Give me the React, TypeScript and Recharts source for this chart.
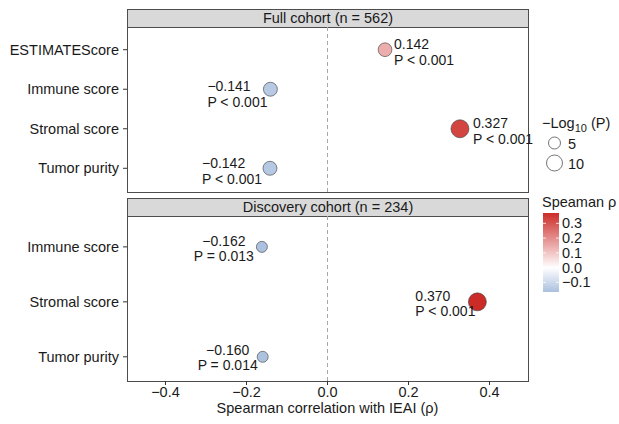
import React from 'react';
import {
  ScatterChart,
  Scatter,
  XAxis,
  YAxis,
  ZAxis,
  ReferenceLine
} from 'recharts';

// full cohort (n = 562)
const fullCategories = ['ESTIMATEScore', 'Immune score', 'Stromal score', 'Tumor purity'];
const fullRho = [0.142, -0.141, 0.327, -0.142];
const fullLogP = [7.0, 7.3, 13.0, 7.3];
const fullP = ['P < 0.001', 'P < 0.001', 'P < 0.001', 'P < 0.001'];

// discovery cohort (n = 234)
const discoveryCategories = ['Immune score', 'Stromal score', 'Tumor purity'];
const discoveryRho = [-0.162, 0.37, -0.16];
const discoveryLogP = [4.0, 13.0, 4.0];
const discoveryP = ['P = 0.013', 'P < 0.001', 'P = 0.014'];

const xTicks = [-0.4, -0.2, 0, 0.2, 0.4];
const sizeLegendValues = [5, 10];
const colorLegendTicks = [0.3, 0.2, 0.1, 0.0, -0.1];

// where the repelled labels ended up, relative to each point
const fullLabelPos = [
  { anchor: 'start', dx: 9, dy1: -6, dy2: 10 },
  { anchor: 'start', dx: -63, dy1: -3, dy2: 13 },
  { anchor: 'start', dx: 13, dy1: -6, dy2: 10 },
  { anchor: 'start', dx: -68, dy1: -5, dy2: 11 }
];
const discoveryLabelPos = [
  { anchor: 'middle', dx: -38, dy1: -6, dy2: 9 },
  { anchor: 'start', dx: -62, dy1: -6, dy2: 9 },
  { anchor: 'middle', dx: -35, dy1: -7, dy2: 8 }
];

const FONT = '"Liberation Sans", Arial, Helvetica, sans-serif';
const TEXT = '#1a1a1a';
const BORDER = '#4d4d4d';
const X_DOMAIN: [number, number] = [-0.495, 0.495];

// size scale: -log10(P) -> circle area (px^2)
const Z_DOMAIN: [number, number] = [0, 15];
const Z_RANGE: [number, number] = [25, 289];

const HIGH = [204, 44, 40];
const LOW = [66, 113, 181];
const RHO_TOP = 0.37;
const RHO_BOTTOM = -0.165;

function rhoColor(v: number) {
  const t = Math.min(1, Math.abs(v) / RHO_TOP);
  const c = v >= 0 ? HIGH : LOW;
  const ch = c.map((k) => Math.round(255 + (k - 255) * t));
  return `rgb(${ch[0]},${ch[1]},${ch[2]})`;
}

const minus = (s: string) => s.replace('-', '\u2212');

function buildRows(rho: number[], logp: number[], p: string[]) {
  return rho.map((r, i) => ({ x: r, y: i, logp: logp[i], p: p[i], idx: i }));
}

const fullRows = buildRows(fullRho, fullLogP, fullP);
const discoveryRows = buildRows(discoveryRho, discoveryLogP, discoveryP);

function makeShape(labelPos: any[]) {
  return (props: any) => {
    const { cx, cy, payload } = props;
    const size = props.size ?? Math.PI * (props.width / 2) ** 2;
    const r = Math.sqrt(size / Math.PI);
    const pos = labelPos[payload.idx];
    const tx = cx + pos.dx;
    return (
      <g>
        <circle cx={cx} cy={cy} r={r} fill={rhoColor(payload.x)} stroke="#3a3a3a" strokeWidth={0.6} />
        <text x={tx} y={cy + pos.dy1} textAnchor={pos.anchor} dominantBaseline="central"
          fontFamily={FONT} fontSize={14} fill={TEXT}>
          {minus(payload.x.toFixed(3))}
        </text>
        <text x={tx} y={cy + pos.dy2} textAnchor={pos.anchor} dominantBaseline="central"
          fontFamily={FONT} fontSize={14} fill={TEXT}>
          {payload.p}
        </text>
      </g>
    );
  };
}

const tickStyle = { fontSize: 14.5, fontFamily: FONT, fill: TEXT };

function Panel({ top, height, label }: { top: number; height: number; label: string }) {
  return (
    <div style={{
      position: 'absolute', left: 127, top, width: 402, height,
      border: `1px solid ${BORDER}`, boxSizing: 'border-box'
    }}>
      <div style={{
        height: 17, background: '#d9d9d9', borderBottom: `1px solid ${BORDER}`,
        fontFamily: FONT, fontSize: 14.5, color: TEXT, textAlign: 'center', lineHeight: '17px'
      }}>
        {label}
      </div>
    </div>
  );
}

function Legends() {
  const r = (v: number) => {
    const area = Z_RANGE[0] + ((v - Z_DOMAIN[0]) / (Z_DOMAIN[1] - Z_DOMAIN[0])) * (Z_RANGE[1] - Z_RANGE[0]);
    return Math.sqrt(area / Math.PI);
  };
  const barTop = 213;
  const barH = 79;
  const yOf = (v: number) => barTop + ((RHO_TOP - v) / (RHO_TOP - RHO_BOTTOM)) * barH;
  const zeroOffset = (RHO_TOP / (RHO_TOP - RHO_BOTTOM)) * 100;
  return (
    <svg width={619} height={424} style={{ position: 'absolute', left: 0, top: 0, pointerEvents: 'none' }}>
      <defs>
        <linearGradient id="rhoGrad" x1="0" y1="0" x2="0" y2="1">
          <stop offset="0%" stopColor={rhoColor(RHO_TOP)} />
          <stop offset={`${zeroOffset}%`} stopColor="#ffffff" />
          <stop offset="100%" stopColor={rhoColor(RHO_BOTTOM)} />
        </linearGradient>
      </defs>
      <text x={542} y={123} dominantBaseline="central" fontFamily={FONT} fontSize={14.5} fill={TEXT}>
        {'\u2212Log'}
        <tspan fontSize={11} dy={5}>10</tspan>
        <tspan dy={-5}> (P)</tspan>
      </text>
      {sizeLegendValues.map((v, i) => (
        <g key={v}>
          <circle cx={554.5} cy={143 + i * 20} r={r(v)} fill="#fff" stroke="#3a3a3a" strokeWidth={0.7} />
          <text x={568} y={144 + i * 20} dominantBaseline="central" fontFamily={FONT} fontSize={14.5} fill={TEXT}>
            {v}
          </text>
        </g>
      ))}
      <text x={542} y={202} dominantBaseline="central" fontFamily={FONT} fontSize={14.5} fill={TEXT}>
        Speaman ρ
      </text>
      <rect x={543} y={barTop} width={16} height={barH} fill="url(#rhoGrad)" />
      {colorLegendTicks.map((v) => (
        <g key={v}>
          <line x1={543} x2={546} y1={yOf(v)} y2={yOf(v)} stroke="#fff" strokeWidth={0.8} />
          <line x1={556} x2={559} y1={yOf(v)} y2={yOf(v)} stroke="#fff" strokeWidth={0.8} />
          <text x={562} y={yOf(v)} dominantBaseline="central" fontFamily={FONT} fontSize={14.5} fill={TEXT}>
            {minus(v.toFixed(1))}
          </text>
        </g>
      ))}
    </svg>
  );
}

export default function App() {
  return (
    <div style={{ position: 'absolute', left: 0, top: 0, width: 619, height: 424, background: '#fff' }}>
      <Panel top={9} height={184} label="Full cohort (n = 562)" />
      <Panel top={198} height={184} label="Discovery cohort (n = 234)" />

      <div style={{ position: 'absolute', left: 0, top: 26 }}>
        <ScatterChart width={545} height={166} margin={{ top: 0, right: 17, bottom: 0, left: 0 }}>
          <XAxis type="number" dataKey="x" domain={X_DOMAIN} hide />
          <YAxis
            type="number"
            dataKey="y"
            width={127}
            reversed
            domain={[-0.6, 3.6]}
            ticks={[0, 1, 2, 3]}
            interval={0}
            tickFormatter={(v: number) => fullCategories[v]}
            axisLine={false}
            tickSize={4}
            tickMargin={4}
            tickLine={{ stroke: '#333' }}
            tick={tickStyle}
          />
          <ZAxis type="number" dataKey="logp" domain={Z_DOMAIN} range={Z_RANGE} />
          <ReferenceLine x={0} stroke="#a8a8a8" strokeDasharray="4 3" />
          <Scatter data={fullRows} isAnimationActive={false} shape={makeShape(fullLabelPos)} />
        </ScatterChart>
      </div>

      <div style={{ position: 'absolute', left: 0, top: 215 }}>
        <ScatterChart width={545} height={209} margin={{ top: 0, right: 17, bottom: 0, left: 0 }}>
          <XAxis
            type="number"
            dataKey="x"
            domain={X_DOMAIN}
            ticks={xTicks}
            height={43}
            axisLine={false}
            tickSize={4}
            tickLine={{ stroke: '#333' }}
            tick={tickStyle}
            tickFormatter={(v: number) => minus(v.toFixed(1))}
            label={{
              value: 'Spearman correlation with IEAI (\u03c1)',
              position: 'insideBottom',
              offset: 11,
              style: { fontSize: 14.5, fontFamily: FONT, fill: TEXT }
            }}
          />
          <YAxis
            type="number"
            dataKey="y"
            width={127}
            reversed
            domain={[-0.58, 2.44]}
            ticks={[0, 1, 2]}
            interval={0}
            tickFormatter={(v: number) => discoveryCategories[v]}
            axisLine={false}
            tickSize={4}
            tickMargin={4}
            tickLine={{ stroke: '#333' }}
            tick={tickStyle}
          />
          <ZAxis type="number" dataKey="logp" domain={Z_DOMAIN} range={Z_RANGE} />
          <ReferenceLine x={0} stroke="#a8a8a8" strokeDasharray="4 3" />
          <Scatter data={discoveryRows} isAnimationActive={false} shape={makeShape(discoveryLabelPos)} />
        </ScatterChart>
      </div>

      <Legends />
    </div>
  );
}
